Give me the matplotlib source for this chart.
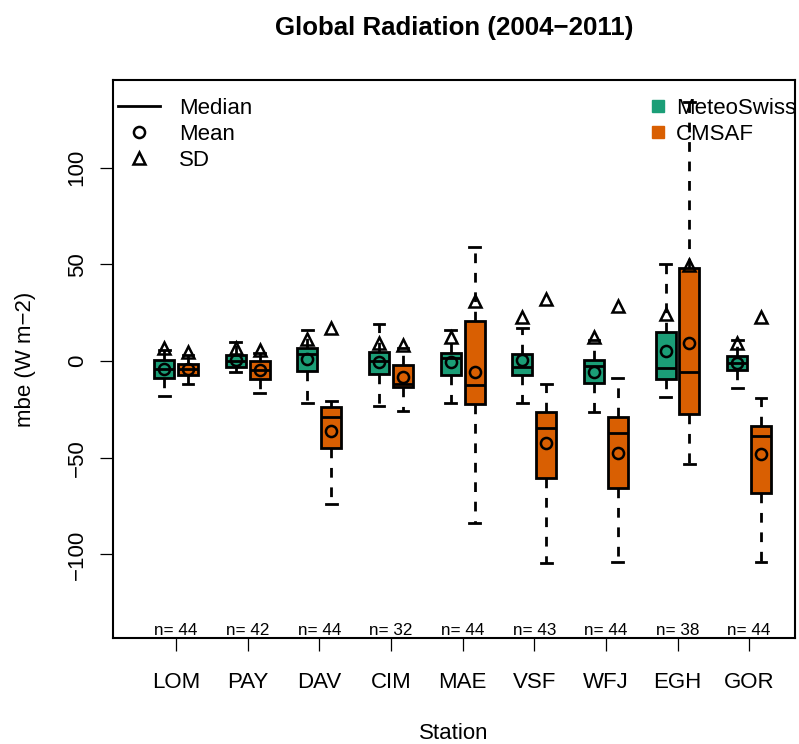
import matplotlib
matplotlib.use("Agg")
import matplotlib.pyplot as plt
from matplotlib.lines import Line2D
from matplotlib.transforms import blended_transform_factory

plt.rcParams["font.family"] = ["Liberation Sans", "DejaVu Sans"]

stations = ["LOM", "PAY", "DAV", "CIM", "MAE", "VSF", "WFJ", "EGH", "GOR"]
n_obs = [44, 42, 44, 32, 44, 43, 44, 38, 44]

# MeteoSwiss stats
ms_lo = [-18.1, -5.9, -21.5, -23.3, -21.5, -21.9, -26.2, -18.4, -14.1]
ms_q1 = [-8.6, -2.9, -5.2, -6.9, -7.2, -7.2, -11.5, -9.5, -4.7]
ms_med = [-4.3, 0.2, 3.6, 0.2, 1.4, -2.9, -2.6, -3.8, -1.2]
ms_q3 = [0.5, 3.1, 6.6, 4.5, 4.0, 3.4, 0.5, 15.2, 2.6]
ms_hi = [5.7, 9.7, 16.0, 19.0, 16.0, 16.9, 11.0, 50.2, 10.9]
ms_mean = [-4.3, 0.5, 1.0, -0.7, -0.7, 0.5, -5.5, 5.2, -0.9]
ms_sd = [6.6, 6.7, 11.2, 9.1, 12.6, 22.6, 12.6, 24.3, 9.1]

# CMSAF stats
cm_lo = [-11.9, -16.7, -74.1, -25.7, -83.9, -104.6, -103.8, -53.4, -103.8]
cm_q1 = [-7.2, -9.3, -45.2, -13.3, -22.2, -60.7, -65.8, -27.6, -68.4]
cm_med = [-4.3, -4.7, -29.1, -11.9, -12.4, -34.5, -37.1, -5.5, -38.8]
cm_q3 = [-1.6, 0.0, -23.8, -2.1, 20.8, -26.2, -28.8, 48.3, -33.6]
cm_hi = [3.1, 3.9, -20.5, 6.6, 59.1, -11.9, -9.0, 134.0, -19.3]
cm_mean = [-4.0, -4.7, -36.2, -8.1, -5.5, -42.6, -47.4, 9.5, -48.1]
cm_sd = [4.8, 5.7, 17.2, 8.3, 31.2, 32.0, 28.4, 49.6, 22.9]

GREEN = "#1B9E77"
ORANGE = "#D95F02"


def make_stats(lo, q1, med, q3, hi, mean):
    return [dict(whislo=a, q1=b, med=c, q3=d, whishi=e, mean=f, fliers=[])
            for a, b, c, d, e, f in zip(lo, q1, med, q3, hi, mean)]


fig = plt.figure(figsize=(7.99, 7.44), dpi=100)
ax = fig.add_axes([113.3 / 799, 106 / 744, (795 - 113.3) / 799, 558 / 744])

ticks = [1.5 + 3 * i for i in range(len(stations))]
pos_ms = [t - 0.5 for t in ticks]
pos_cm = [t + 0.5 for t in ticks]

common = dict(
    widths=0.84, capwidths=0.45, patch_artist=True, showmeans=True,
    showfliers=False,
    whiskerprops=dict(color="black", lw=2, linestyle=(0, (3.5, 3.5))),
    capprops=dict(color="black", lw=2),
    medianprops=dict(color="black", lw=2),
    meanprops=dict(marker="o", markerfacecolor="none", markeredgecolor="black",
                   markersize=8, markeredgewidth=1.8),
)

for stats, pos, col in [
    (make_stats(ms_lo, ms_q1, ms_med, ms_q3, ms_hi, ms_mean), pos_ms, GREEN),
    (make_stats(cm_lo, cm_q1, cm_med, cm_q3, cm_hi, cm_mean), pos_cm, ORANGE),
]:
    ax.bxp(stats, positions=pos,
           boxprops=dict(facecolor=col, edgecolor="black", lw=2), **common)

ax.plot(pos_ms, ms_sd, linestyle="none", marker="^", markersize=9,
        markerfacecolor="none", markeredgecolor="black", markeredgewidth=1.8, zorder=5)
ax.plot(pos_cm, cm_sd, linestyle="none", marker="^", markersize=9,
        markerfacecolor="none", markeredgecolor="black", markeredgewidth=1.8, zorder=5)

ax.set_xlim(-1.13, 27.42)
ax.set_ylim(-143.2, 145.3)
ax.set_xticks(ticks)
ax.set_xticklabels(stations)
ax.set_yticks([-100, -50, 0, 50, 100])
ax.set_yticklabels(["\u2212100", "\u221250", "0", "50", "100"], rotation=90, va="center")
ax.tick_params(axis="both", length=9.4, width=0.9, labelsize=16)
ax.tick_params(axis="x", pad=15)
ax.tick_params(axis="y", pad=9)
for s in ax.spines.values():
    s.set_linewidth(1.5)

trans = blended_transform_factory(ax.transData, ax.transAxes)
for t, n in zip(ticks, n_obs):
    ax.text(t, 0.0143, f"n= {n}", transform=trans, ha="center", va="center", fontsize=12.3)

ax.set_xlabel("Station", fontsize=16, labelpad=22)
ax.set_ylabel("mbe (W m\u22122)", fontsize=16, labelpad=22)
fig.text((113.3 + 795) / 2 / 799, 1 - 28 / 744, "Global Radiation (2004\u22122011)",
         ha="center", va="center", fontsize=18.6, fontweight="bold")

stat_handles = [
    Line2D([], [], color="black", lw=2),
    Line2D([], [], linestyle="none", marker="o", markerfacecolor="none",
           markeredgecolor="black", markersize=8, markeredgewidth=1.8),
    Line2D([], [], linestyle="none", marker="^", markerfacecolor="none",
           markeredgecolor="black", markersize=9, markeredgewidth=1.8),
]
leg1 = ax.legend(stat_handles, ["Median", "Mean", "SD"], loc="upper left",
                 bbox_to_anchor=(0.0, 0.976), frameon=False, fontsize=16,
                 handlelength=1.9, handletextpad=0.85, labelspacing=0.23,
                 borderaxespad=0.0, borderpad=0.2)
ax.add_artist(leg1)

src_handles = [
    Line2D([], [], linestyle="none", marker="s", markersize=9,
           markerfacecolor=GREEN, markeredgecolor=GREEN),
    Line2D([], [], linestyle="none", marker="s", markersize=9,
           markerfacecolor=ORANGE, markeredgecolor=ORANGE),
]
ax.legend(src_handles, ["MeteoSwiss", "CMSAF"], loc="upper left",
          bbox_to_anchor=((640 - 113.3) / (795 - 113.3), 0.976), frameon=False,
          fontsize=16, handlelength=1.2, handletextpad=0.23, labelspacing=0.23,
          borderaxespad=0.0, borderpad=0.2)

fig.savefig("out.png", dpi=100)
